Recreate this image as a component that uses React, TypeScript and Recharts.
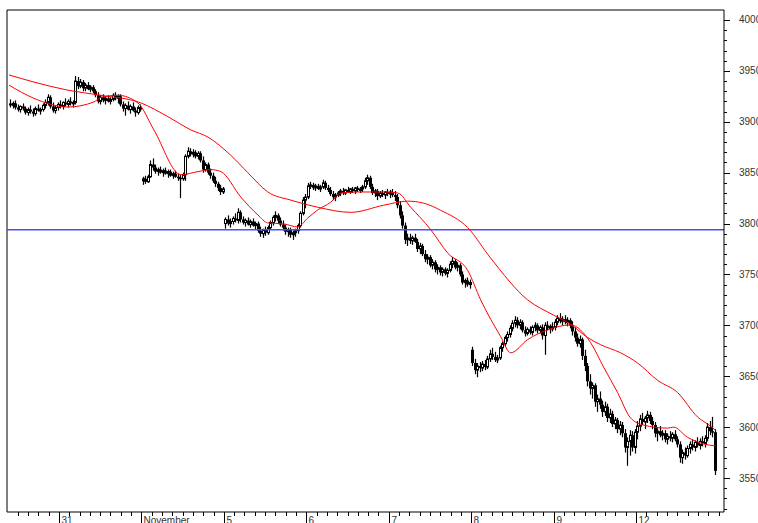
import React from 'react';
import { ComposedChart, Bar, Line, XAxis, YAxis, ReferenceLine } from 'recharts';

// each candle: [open, high, low, close]
const sessionPrev = [
  [3918, 3922, 3914, 3916], [3916, 3920, 3913, 3918], [3918, 3921, 3912, 3914], [3914, 3917, 3910, 3912],
  [3912, 3916, 3909, 3915], [3915, 3918, 3911, 3913], [3913, 3915, 3907, 3909], [3909, 3914, 3906, 3912],
  [3912, 3916, 3908, 3910], [3910, 3913, 3905, 3908], [3908, 3915, 3906, 3913], [3913, 3917, 3910, 3911],
  [3911, 3914, 3907, 3912], [3912, 3918, 3910, 3916], [3916, 3922, 3913, 3919], [3919, 3927, 3916, 3924],
  [3924, 3926, 3913, 3915], [3915, 3919, 3909, 3911], [3911, 3916, 3908, 3914], [3914, 3919, 3911, 3917],
];

const session31 = [
  [3917, 3921, 3913, 3915], [3915, 3920, 3912, 3919], [3919, 3923, 3915, 3917], [3917, 3922, 3914, 3920],
  [3920, 3924, 3916, 3918], [3918, 3921, 3914, 3919], [3919, 3945, 3917, 3940], [3940, 3944, 3932, 3935],
  [3935, 3942, 3933, 3939], [3939, 3941, 3930, 3933], [3933, 3938, 3930, 3936], [3936, 3939, 3931, 3932],
  [3932, 3936, 3929, 3934], [3934, 3936, 3928, 3930], [3930, 3932, 3924, 3926], [3926, 3929, 3918, 3920],
  [3920, 3926, 3917, 3924], [3924, 3927, 3919, 3921], [3921, 3925, 3917, 3923], [3923, 3926, 3919, 3920],
  [3920, 3924, 3917, 3922], [3922, 3928, 3920, 3926], [3926, 3929, 3921, 3923], [3923, 3927, 3918, 3925],
  [3925, 3927, 3915, 3917], [3917, 3920, 3910, 3913], [3913, 3918, 3906, 3916], [3916, 3920, 3911, 3912],
  [3912, 3917, 3908, 3915], [3915, 3919, 3910, 3911], [3911, 3914, 3905, 3909], [3909, 3916, 3907, 3914],
  [3914, 3917, 3910, 3912],
];

const sessionNov = [
  [3842, 3846, 3838, 3844], [3844, 3847, 3839, 3841], [3841, 3848, 3840, 3846], [3846, 3862, 3845, 3858],
  [3858, 3864, 3852, 3855], [3855, 3858, 3849, 3851], [3851, 3855, 3847, 3853], [3853, 3856, 3849, 3850],
  [3850, 3854, 3846, 3852], [3852, 3855, 3848, 3849], [3849, 3853, 3845, 3851], [3851, 3853, 3846, 3847],
  [3847, 3851, 3844, 3849], [3849, 3852, 3845, 3846], [3846, 3849, 3842, 3845], [3845, 3848, 3825, 3844],
  [3844, 3850, 3842, 3848], [3848, 3868, 3842, 3866], [3866, 3875, 3864, 3871], [3871, 3874, 3866, 3868],
  [3868, 3873, 3865, 3870], [3870, 3872, 3864, 3866], [3866, 3871, 3863, 3869], [3869, 3871, 3860, 3862],
  [3862, 3866, 3850, 3853], [3853, 3860, 3851, 3858], [3858, 3860, 3848, 3850], [3850, 3854, 3844, 3847],
  [3847, 3850, 3840, 3842], [3842, 3846, 3836, 3839], [3839, 3841, 3832, 3835], [3835, 3838, 3828, 3831],
  [3831, 3836, 3829, 3834],
];

const session5 = [
  [3800, 3806, 3795, 3804], [3804, 3808, 3798, 3800], [3800, 3805, 3796, 3802], [3802, 3807, 3799, 3805],
  [3805, 3810, 3801, 3803], [3803, 3815, 3800, 3811], [3811, 3813, 3801, 3804], [3804, 3807, 3799, 3801],
  [3801, 3805, 3797, 3803], [3803, 3806, 3798, 3799], [3799, 3804, 3796, 3802], [3802, 3805, 3797, 3798],
  [3798, 3802, 3794, 3800], [3800, 3802, 3791, 3793], [3793, 3797, 3787, 3790], [3790, 3795, 3786, 3794],
  [3794, 3797, 3788, 3791], [3791, 3798, 3789, 3796], [3796, 3803, 3794, 3801], [3801, 3808, 3798, 3806],
  [3806, 3812, 3802, 3808], [3808, 3810, 3800, 3803], [3803, 3806, 3797, 3799], [3799, 3803, 3793, 3796],
  [3796, 3799, 3789, 3792], [3792, 3796, 3787, 3794], [3794, 3796, 3786, 3789], [3789, 3793, 3784, 3791],
  [3791, 3795, 3787, 3793], [3793, 3800, 3790, 3798], [3798, 3812, 3796, 3810], [3810, 3826, 3808, 3823],
  [3823, 3829, 3815, 3826],
];

const session6 = [
  [3826, 3840, 3824, 3837], [3837, 3841, 3834, 3838], [3838, 3840, 3833, 3835], [3835, 3839, 3832, 3837],
  [3837, 3839, 3833, 3834], [3834, 3838, 3831, 3836], [3836, 3843, 3834, 3840], [3840, 3842, 3833, 3835],
  [3835, 3838, 3831, 3833], [3833, 3836, 3827, 3829], [3829, 3832, 3823, 3826], [3826, 3830, 3822, 3828],
  [3828, 3832, 3826, 3830], [3830, 3834, 3827, 3832], [3832, 3835, 3828, 3830], [3830, 3834, 3828, 3833],
  [3833, 3836, 3830, 3831], [3831, 3835, 3829, 3834], [3834, 3836, 3830, 3832], [3832, 3836, 3829, 3835],
  [3835, 3837, 3831, 3833], [3833, 3836, 3830, 3834], [3834, 3838, 3831, 3836], [3836, 3845, 3834, 3842],
  [3842, 3848, 3838, 3845], [3845, 3847, 3834, 3836], [3836, 3839, 3828, 3830], [3830, 3834, 3826, 3832],
  [3832, 3834, 3823, 3827], [3827, 3832, 3825, 3830], [3830, 3833, 3826, 3828], [3828, 3832, 3824, 3831],
  [3831, 3834, 3827, 3829],
];

const session7 = [
  [3829, 3833, 3825, 3831], [3831, 3834, 3826, 3828], [3828, 3832, 3822, 3826], [3826, 3829, 3815, 3818],
  [3818, 3822, 3805, 3808], [3808, 3812, 3795, 3798], [3798, 3801, 3780, 3784], [3784, 3790, 3778, 3786],
  [3786, 3790, 3780, 3783], [3783, 3788, 3779, 3786], [3786, 3790, 3781, 3782], [3782, 3785, 3772, 3775],
  [3775, 3781, 3770, 3778], [3778, 3780, 3768, 3770], [3770, 3774, 3762, 3765], [3765, 3770, 3760, 3767],
  [3767, 3769, 3757, 3759], [3759, 3765, 3755, 3762], [3762, 3764, 3752, 3755], [3755, 3760, 3750, 3757],
  [3757, 3759, 3749, 3752], [3752, 3757, 3748, 3755], [3755, 3757, 3749, 3751], [3751, 3756, 3747, 3754],
  [3754, 3763, 3752, 3760], [3760, 3767, 3756, 3763], [3763, 3765, 3755, 3757], [3757, 3762, 3753, 3759],
  [3759, 3761, 3748, 3750], [3750, 3753, 3740, 3742], [3742, 3746, 3737, 3744], [3744, 3747, 3738, 3740],
  [3740, 3745, 3736, 3742],
];

const session8 = [
  [3676, 3679, 3660, 3663], [3663, 3667, 3652, 3656], [3656, 3663, 3649, 3660], [3660, 3664, 3654, 3658],
  [3658, 3665, 3655, 3662], [3662, 3666, 3656, 3659], [3659, 3670, 3657, 3667], [3667, 3676, 3664, 3672],
  [3672, 3678, 3666, 3669], [3669, 3674, 3664, 3666], [3666, 3671, 3663, 3668], [3668, 3680, 3666, 3678],
  [3678, 3684, 3674, 3682], [3682, 3690, 3679, 3688], [3688, 3694, 3684, 3691], [3691, 3700, 3688, 3697],
  [3697, 3705, 3694, 3702], [3702, 3709, 3698, 3705], [3705, 3708, 3697, 3700], [3700, 3706, 3696, 3703],
  [3703, 3705, 3693, 3695], [3695, 3699, 3689, 3692], [3692, 3698, 3690, 3696], [3696, 3699, 3691, 3693],
  [3693, 3700, 3690, 3698], [3698, 3703, 3694, 3700], [3700, 3702, 3692, 3695], [3695, 3700, 3692, 3698],
  [3698, 3701, 3686, 3690], [3690, 3703, 3671, 3700], [3700, 3704, 3695, 3697], [3697, 3701, 3692, 3699],
  [3699, 3703, 3694, 3696],
];

const session9 = [
  [3698, 3706, 3695, 3703], [3703, 3710, 3700, 3707], [3707, 3712, 3702, 3704], [3704, 3709, 3700, 3706],
  [3706, 3710, 3701, 3703], [3703, 3708, 3699, 3705], [3705, 3707, 3697, 3700], [3700, 3704, 3690, 3694],
  [3694, 3698, 3684, 3688], [3688, 3692, 3679, 3682], [3682, 3690, 3678, 3686], [3686, 3688, 3666, 3670],
  [3670, 3676, 3655, 3660], [3660, 3663, 3640, 3645], [3645, 3652, 3632, 3638], [3638, 3644, 3628, 3641],
  [3641, 3643, 3620, 3625], [3625, 3632, 3615, 3628], [3628, 3635, 3618, 3622], [3622, 3626, 3610, 3615],
  [3615, 3625, 3611, 3620], [3620, 3623, 3605, 3609], [3609, 3618, 3604, 3613], [3613, 3616, 3600, 3603],
  [3603, 3610, 3598, 3607], [3607, 3609, 3594, 3598], [3598, 3606, 3592, 3602], [3602, 3605, 3590, 3594],
  [3594, 3598, 3575, 3580], [3580, 3590, 3562, 3586], [3586, 3597, 3572, 3592], [3592, 3596, 3576, 3580],
  [3580, 3598, 3574, 3595],
];

const session12 = [
  [3595, 3606, 3588, 3601], [3601, 3612, 3596, 3608], [3608, 3614, 3602, 3605], [3605, 3611, 3598, 3609],
  [3609, 3616, 3604, 3612], [3612, 3615, 3603, 3606], [3606, 3610, 3598, 3602], [3602, 3605, 3590, 3594],
  [3594, 3599, 3586, 3596], [3596, 3601, 3590, 3592], [3592, 3597, 3587, 3594], [3594, 3597, 3585, 3588],
  [3588, 3594, 3583, 3591], [3591, 3596, 3586, 3589], [3589, 3595, 3585, 3593], [3593, 3597, 3586, 3588],
  [3588, 3591, 3580, 3583], [3583, 3586, 3565, 3570], [3570, 3578, 3564, 3575], [3575, 3580, 3568, 3572],
  [3572, 3582, 3570, 3579], [3579, 3586, 3574, 3583], [3583, 3588, 3577, 3580], [3580, 3587, 3576, 3585],
  [3585, 3590, 3580, 3582], [3582, 3589, 3578, 3586], [3586, 3591, 3581, 3584], [3584, 3592, 3580, 3589],
  [3589, 3604, 3586, 3600], [3600, 3606, 3592, 3596], [3596, 3610, 3590, 3595], [3595, 3598, 3553, 3557],
];

const sessions = [sessionPrev, session31, sessionNov, session5, session6, session7, session8, session9, session12];
const dayLabels = ['31', 'November', '5', '6', '7', '8', '9', '12'];

// moving averages: [bar position, value]
const maFast = [
  [0, 3936], [10, 3923], [23.6, 3914.5], [34, 3919.5], [36.8, 3924], [43.6, 3926], [51.6, 3918.5],
  [58, 3892], [68.8, 3848], [75.6, 3851], [80.8, 3853], [84.8, 3851], [92.8, 3826], [99.6, 3808.5],
  [103.6, 3800.6], [110, 3799.6], [115.6, 3796.7], [119.6, 3805.5], [123.6, 3813.4], [128.8, 3821],
  [132.8, 3830], [139.6, 3831], [150, 3831], [155.6, 3830], [160.8, 3816], [168.8, 3794], [175.6, 3771],
  [183.6, 3754], [188.8, 3725], [196.8, 3689], [200.8, 3673], [207.6, 3686], [215.6, 3695.5],
  [224.8, 3700.4], [232.8, 3683], [238, 3659], [243.6, 3634], [248.8, 3609], [254, 3602], [263.6, 3599],
  [266, 3600], [271.6, 3590], [278, 3583.5], [282.8, 3581.5],
];

const maSlow = [
  [0, 3946], [10, 3939], [23.6, 3931], [36.8, 3926], [52.8, 3918.5], [63.6, 3905], [72.8, 3892],
  [79.6, 3885], [88.8, 3867], [95.6, 3850], [103.6, 3831], [112.8, 3823], [123.6, 3816], [136.8, 3811],
  [150, 3818], [159.6, 3822], [166, 3820], [172.8, 3813], [183.6, 3796], [192.8, 3766], [207.6, 3725],
  [218, 3710], [224.8, 3701], [231.6, 3688], [236.8, 3681], [244.8, 3673], [251.6, 3663], [259.6, 3646],
  [267.6, 3634], [275.6, 3610], [280.8, 3601], [282.8, 3597],
];

const levelLine = 3794;

const X_MIN = -0.8;
const X_MAX = 286.2;
const Y_MIN = 3516.6;
const Y_MAX = 4009.8;

const candles = sessions.flat().map(([o, h, l, c], i) => ({ x: i + 0.5, o, h, l, c }));
const fastData = maFast.map(([x, v]) => ({ x, v }));
const slowData = maSlow.map(([x, v]) => ({ x, v }));

const dayStarts: number[] = [];
let count = sessions[0].length;
sessions.slice(1).forEach((s) => {
  dayStarts.push(count);
  count += s.length;
});

// hourly ticks, 8 per session
const step = 33 / 8;
const xTicks: number[] = [];
for (let k = 4; k >= 1; k--) xTicks.push(dayStarts[0] - k * step);
dayStarts.forEach((d) => {
  for (let k = 0; k < 8; k++) xTicks.push(k === 0 ? d : d + k * step);
});
xTicks.push(dayStarts[dayStarts.length - 1] + 8 * step);

const yTicks: number[] = [];
for (let v = 3520; v <= 4000; v += 10) yTicks.push(v);

const FONT = '"Liberation Sans", Arial, sans-serif';

function Candle(props: any) {
  const { x, y, width, height, payload } = props;
  const { o, h, l, c } = payload;
  if (h === l) return null;
  const k = height / (h - l);
  const cx = Math.round(x + width / 2) + 0.5;
  const yo = y + (h - o) * k;
  const yc = y + (h - c) * k;
  const top = Math.min(yo, yc);
  const bh = Math.max(Math.abs(yc - yo), 1.5);
  const up = c >= o;
  return (
    <g>
      <line x1={cx} x2={cx} y1={y} y2={y + height} stroke="#000" strokeWidth={1.2} />
      {up ? (
        <rect x={cx - 1} y={top} width={2} height={bh} fill="#fff" stroke="#000" strokeWidth={1} />
      ) : (
        <rect x={cx - 1.5} y={top} width={3} height={bh} fill="#000" />
      )}
    </g>
  );
}

function XTick(props: any) {
  const { x, y, payload } = props;
  const idx = dayStarts.indexOf(payload.value);
  const px = Math.round(x) + 0.5;
  if (idx >= 0) {
    return (
      <g>
        <line x1={px} x2={px} y1={y} y2={y + 12} stroke="#000" />
        <text x={px + 2} y={y + 12} fontSize={10} fontFamily={FONT} fill="#333">
          {dayLabels[idx]}
        </text>
      </g>
    );
  }
  return <line x1={px} x2={px} y1={y} y2={y + 4} stroke="#000" />;
}

function YTick(props: any) {
  const { x, y, payload } = props;
  const py = Math.round(y) + 0.5;
  if (payload.value % 50 === 0) {
    return (
      <g>
        <line x1={x} x2={x + 6} y1={py} y2={py} stroke="#000" />
        <text x={x + 15} y={y} dy="0.35em" fontSize={10} fontFamily={FONT} fill="#333">
          {payload.value}
        </text>
      </g>
    );
  }
  return <line x1={x} x2={x + 3} y1={py} y2={py} stroke="#000" />;
}

export default function App() {
  return (
    <div style={{ position: 'absolute', left: 0, top: 0, width: 758, height: 523, background: '#fff' }}>
      <ComposedChart
        width={758}
        height={523}
        data={candles}
        margin={{ top: 10, right: 0, bottom: 0, left: 7 }}
      >
        <XAxis
          dataKey="x"
          type="number"
          domain={[X_MIN, X_MAX]}
          allowDataOverflow
          ticks={xTicks}
          interval={0}
          tickSize={0}
          tickMargin={0}
          tickLine={false}
          tick={<XTick />}
          axisLine={{ stroke: '#000' }}
          height={11}
        />
        <YAxis
          orientation="right"
          type="number"
          domain={[Y_MIN, Y_MAX]}
          allowDataOverflow
          ticks={yTicks}
          interval={0}
          tickSize={0}
          tickMargin={0}
          tickLine={false}
          tick={<YTick />}
          axisLine={{ stroke: '#000' }}
          width={34}
        />
        <ReferenceLine y={Y_MAX} stroke="#000" />
        <ReferenceLine x={X_MIN} stroke="#000" />
        <ReferenceLine y={levelLine} stroke="#4b4bff" strokeWidth={1.5} />
        <Bar
          dataKey={(d: any) => [d.l, d.h]}
          barSize={2}
          shape={<Candle />}
          isAnimationActive={false}
        />
        <Line
          data={slowData}
          dataKey="v"
          type="monotone"
          stroke="#ff0000"
          strokeWidth={1}
          dot={false}
          isAnimationActive={false}
        />
        <Line
          data={fastData}
          dataKey="v"
          type="monotone"
          stroke="#ff0000"
          strokeWidth={1}
          dot={false}
          isAnimationActive={false}
        />
      </ComposedChart>
    </div>
  );
}
